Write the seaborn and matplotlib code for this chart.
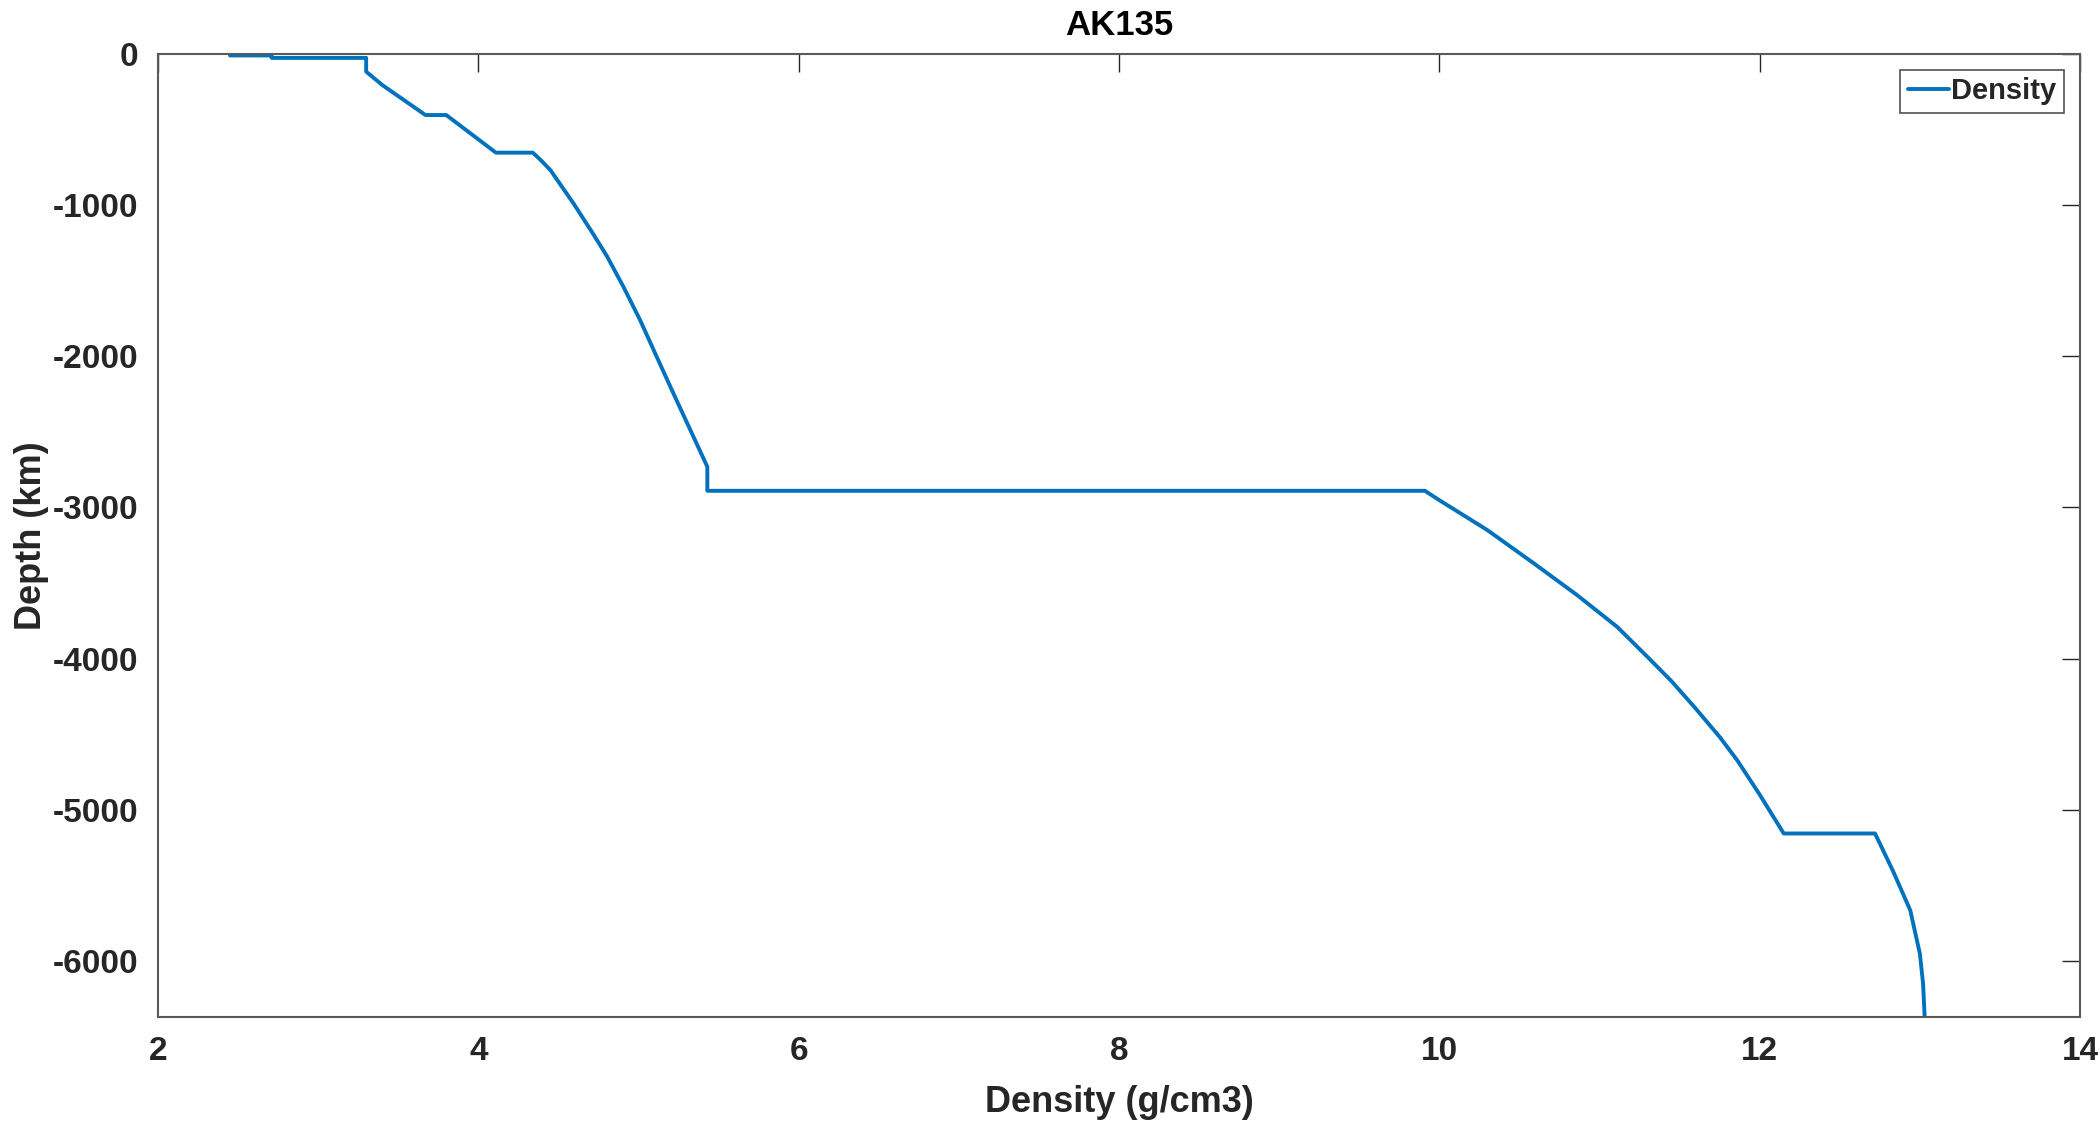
import matplotlib
matplotlib.use("Agg")
import matplotlib.pyplot as plt
import seaborn as sns
import pandas as pd

# -------------------------------------------------------------------
# Data
# -------------------------------------------------------------------

depth_km = [10, 10, 26, 26, 117, 205, 404, 404, 653, 653, 702, 768, 988,
            1187, 1341, 1540, 1760, 2003, 2245, 2731, 2890, 2890, 2952,
            3150, 3370, 3580, 3790, 4000, 4150, 4330, 4518, 4673, 4900,
            5157, 5157, 5400, 5665, 5952, 6150, 6371]
density = [2.45, 2.71, 2.71, 3.30, 3.30, 3.40, 3.67, 3.80, 4.11, 4.34, 4.39,
           4.45, 4.594, 4.715, 4.805, 4.906, 5.01, 5.114, 5.218, 5.43, 5.43,
           9.91, 10.00, 10.30, 10.59, 10.86, 11.11, 11.31, 11.45, 11.60,
           11.75, 11.86, 12.00, 12.15, 12.72, 12.83, 12.94, 13.00, 13.02,
           13.03]

x_ticks = [2, 4, 6, 8, 10, 12, 14]
y_ticks = [-6000, -5000, -4000, -3000, -2000, -1000, 0]

# -------------------------------------------------------------------
# Style
# -------------------------------------------------------------------

sns.set_theme(style="white")
plt.rcParams["font.family"] = ["Liberation Sans", "DejaVu Sans"]
plt.rcParams["font.weight"] = "bold"
plt.rcParams["axes.unicode_minus"] = False

AX_COLOR = "#262626"
LINE_COLOR = "#0072BD"

df = pd.DataFrame({"Density": density, "Depth": [-d for d in depth_km]})

fig = plt.figure(figsize=(21, 11.24), dpi=100)
ax = fig.add_axes([0.0752, 0.0952, 0.9153, 0.8568])

sns.lineplot(data=df, x="Density", y="Depth", sort=False, estimator=None,
             color=LINE_COLOR, linewidth=2.8, label="Density", ax=ax)

ax.set_xlim(2, 14)
ax.set_ylim(-6371, 0)
ax.set_xticks(x_ticks)
ax.set_yticks(y_ticks)

ax.tick_params(axis="both", which="both", direction="in", length=13,
               width=1, color=AX_COLOR, labelcolor=AX_COLOR, labelsize=24,
               top=True, right=True)
ax.tick_params(axis="x", pad=14)
ax.tick_params(axis="y", pad=14)
for lab in ax.get_xticklabels() + ax.get_yticklabels():
    lab.set_fontweight("bold")

for sp in ax.spines.values():
    sp.set_color("#5a5a5a")
    sp.set_linewidth(1.5)

ax.set_xlabel("Density (g/cm3)", fontsize=26, fontweight="bold",
              color=AX_COLOR, labelpad=13)
ax.set_ylabel("Depth (km)", fontsize=26, fontweight="bold",
              color=AX_COLOR, labelpad=3)
ax.set_title("AK135", fontsize=25, fontweight="bold", color="black", pad=14)

leg = ax.legend(loc="upper right", fontsize=21, frameon=True, fancybox=False,
                handlelength=1.4, handletextpad=0.1, borderpad=0.25,
                borderaxespad=0.55)
leg.get_frame().set_edgecolor(AX_COLOR)
leg.get_frame().set_linewidth(1.2)
for t in leg.get_texts():
    t.set_fontweight("bold")

fig.savefig("out.png", dpi=100, facecolor="white")
